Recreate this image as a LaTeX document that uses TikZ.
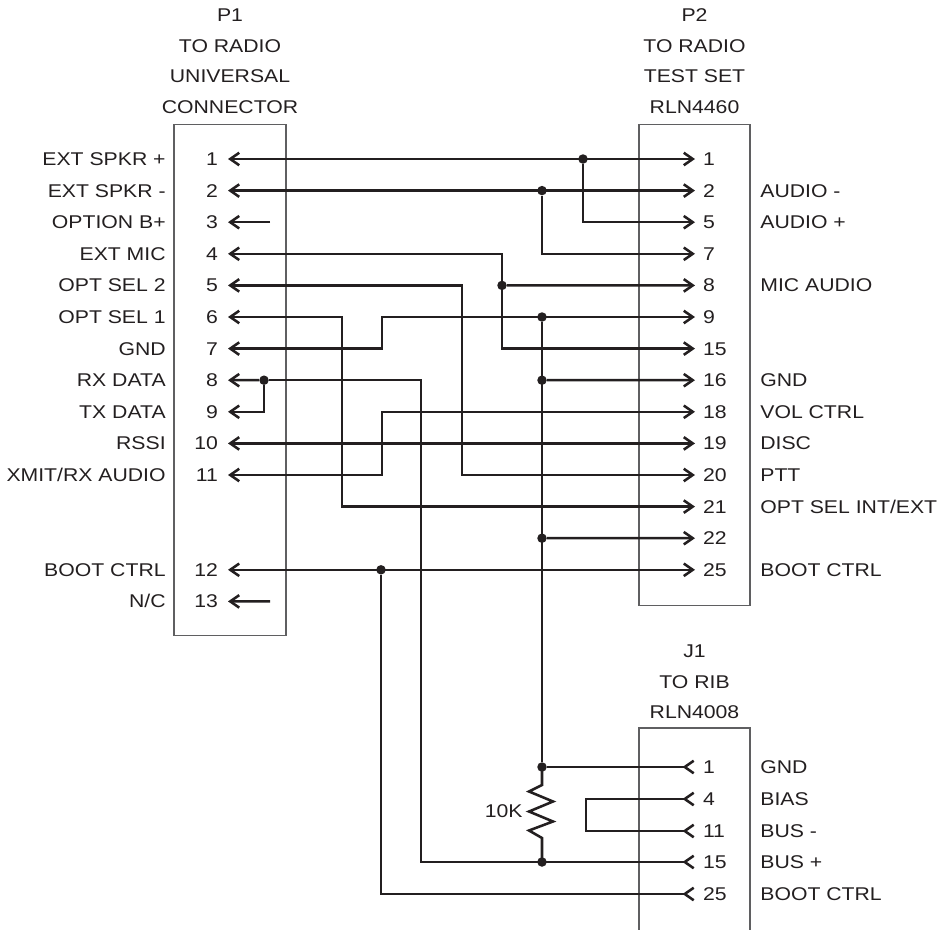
\documentclass[tikz,border=0pt]{standalone}
\usepackage{fontspec}
\setmainfont{Liberation Sans}[FakeStretch=1.15]
\usetikzlibrary{arrows.meta,positioning}
\definecolor{wirec}{RGB}{35,31,32}
\definecolor{boxc}{RGB}{95,95,97}
\begin{document}
\begin{tikzpicture}[x=0.02cm, y=-0.02cm,
        >={Straight Barb[length=1.8mm,width=2.5mm]},
        font=\fontsize{10.5pt}{17.4pt}\selectfont, text=wirec]
    \useasboundingbox (0,0) rectangle (938,930);
    \begin{scope}
        \tikzset{wire/.style = {
            draw=wirec,
            line width=1.45pt } }
        \tikzset{conbox/.style = {
            draw=boxc,
            line width=0.6pt } }
        \tikzset{dot/.style = {
            circle,
            fill=wirec,
            inner sep=0pt,
            minimum size=0.19cm } }
        \tikzset{lnum/.style = {
            inner xsep=2mm, inner ysep=0pt, outer sep=0pt,
            text height=7.5pt, text depth=0pt } }
        \tikzset{rnum/.style = {
            lnum, inner xsep=1.6mm } }
        \tikzset{lbl/.style = {
            inner sep=0pt, text height=7.5pt, text depth=0pt } }
        \tikzset{hdr/.style = {
            align=center, inner sep=0pt } }
        % connector bodies
        \node[conbox, minimum width=2.24cm, minimum height=10.24cm] (p1) at (230,380) {};
        \node[conbox, minimum width=2.22cm, minimum height=9.64cm] (p2) at (694.5,365) {};
        \draw[conbox] (639,930) |- (750,728) -- (750,930);
        \coordinate (j1top) at (694.5,728);
        \node[hdr, above=0.19cm of p1.north] (p1h) {P1\\TO RADIO\\UNIVERSAL\\CONNECTOR};
        \node[hdr, above=0.19cm of p2.north] (p2h) {P2\\TO RADIO\\TEST SET\\RLN4460};
        \node[hdr, above=0.17cm of j1top] (j1h) {J1\\TO RIB\\RLN4008};
        % P1 pins
        \foreach \n/\r/\txt in {1/0/{EXT SPKR +}, 2/1/{EXT SPKR -}, 3/2/{OPTION B+},
                4/3/{EXT MIC}, 5/4/{OPT SEL 2}, 6/5/{OPT SEL 1}, 7/6/{GND},
                8/7/{RX DATA}, 9/8/{TX DATA}, 10/9/{RSSI}, 11/10/{XMIT/RX AUDIO},
                12/13/{BOOT CTRL}, 13/14/{N/C}}{
            \pgfmathsetmacro\y{159+31.6*\r}
            \node[lnum, anchor=east] (a\n) at (228,\y) {\n};
            \node[lbl, anchor=east] (la\n) at (166,\y) {\txt};
        }
        % P2 pins
        \foreach \n/\r in {1/0, 2/1, 5/2, 7/3, 8/4, 9/5, 15/6, 16/7,
                18/8, 19/9, 20/10, 21/11, 22/12, 25/13}{
            \pgfmathsetmacro\y{159+31.6*\r}
            \node[rnum, anchor=west] (b\n) at (695,\y) {\n};
        }
        \foreach \n/\txt in {2/{AUDIO -}, 5/{AUDIO +}, 8/{MIC AUDIO}, 16/{GND},
                18/{VOL CTRL}, 19/{DISC}, 20/{PTT}, 21/{OPT SEL INT/EXT}, 25/{BOOT CTRL}}{
            \node[lbl, anchor=west] (lb\n) at (760,0 |- b\n) {\txt};
        }
        % J1 pins
        \foreach \n/\y/\txt in {1/767/{GND}, 4/799/{BIAS}, 11/831/{BUS -},
                15/862/{BUS +}, 25/894/{BOOT CTRL}}{
            \node[rnum, anchor=west] (c\n) at (695,\y) {\n};
            \node[lbl, anchor=west] (lc\n) at (760,\y) {\txt};
        }
        % junctions
        \node[dot] (j1) at (583,159) {};
        \node[dot] (j2) at (542,190.6) {};
        \node[dot] (j4) at (502,285.4) {};
        \node[dot] (j8) at (264,380.2) {};
        \node[dot] (j12) at (381,569.8) {};
        \node[dot] (g1) at (542,317) {};
        \node[dot] (g2) at (542,380.2) {};
        \node[dot] (g3) at (542,538.2) {};
        \node[dot] (g4) at (542,767) {};
        \node[dot] (g5) at (542,862) {};
        % bends and free ends
        \coordinate (n3) at (270,222.2);
        \coordinate (n13) at (270,601.4);
        \coordinate (k5) at (462,380);
        \coordinate (k6) at (342,400);
        \coordinate (k7) at (382,330);
        \coordinate (k8) at (421,600);
        \coordinate (k11) at (382,440);
        \coordinate (k4) at (586,815);
        % wires
        \draw[wire,<->] (a1.east) -- (b1.west);
        \draw[wire,<->] (a2.east) -- (b2.west);
        \draw[wire,<->] (a10.east) -- (b19.west);
        \draw[wire,<->] (a12.east) -- (b25.west);
        \draw[wire,->] (j1) |- (b5.west);
        \draw[wire,->] (j2) |- (b7.west);
        \draw[wire,->] (n3) -- (a3.east);
        \draw[wire,->] (n13) -- (a13.east);
        \draw[wire,<->] (a4.east) -| (j4.center) |- (b15.west);
        \draw[wire,->] (j4) -- (b8.west);
        \draw[wire,<->] (a5.east) -| (k5) |- (b20.west);
        \draw[wire,<->] (a6.east) -| (k6) |- (b21.west);
        \draw[wire,<->] (a7.east) -| (k7) |- (b9.west);
        \draw[wire,<->] (a11.east) -| (k11) |- (b18.west);
        \draw[wire,<-] (a8.east) -- (j8);
        \draw[wire,<-] (a9.east) -| (j8);
        \draw[wire,-<] (j8) -| (k8) |- (c15.west);
        \draw[wire,-<] (j12) |- (c25.west);
        \draw[wire] (g1) -- (g4);
        \draw[wire,->] (g2) -- (b16.west);
        \draw[wire,->] (g3) -- (b22.west);
        \draw[wire,-<] (g4) -- (c1.west);
        \draw[wire,>-<] (c4.west) -| (k4) |- (c11.west);
        % 10K resistor
        \draw[wire, line join=miter] (g4.center) -- ++(0,18) -- ++(-13,6.5) -- ++(24,10)
            -- ++(-24,10) -- ++(24,10) -- ++(-24,9) -- ++(13,7.5) -- (g5.center);
        \node[lbl, anchor=east] (rlbl) at (523,811) {10K};
    \end{scope}
\end{tikzpicture}
\end{document}
